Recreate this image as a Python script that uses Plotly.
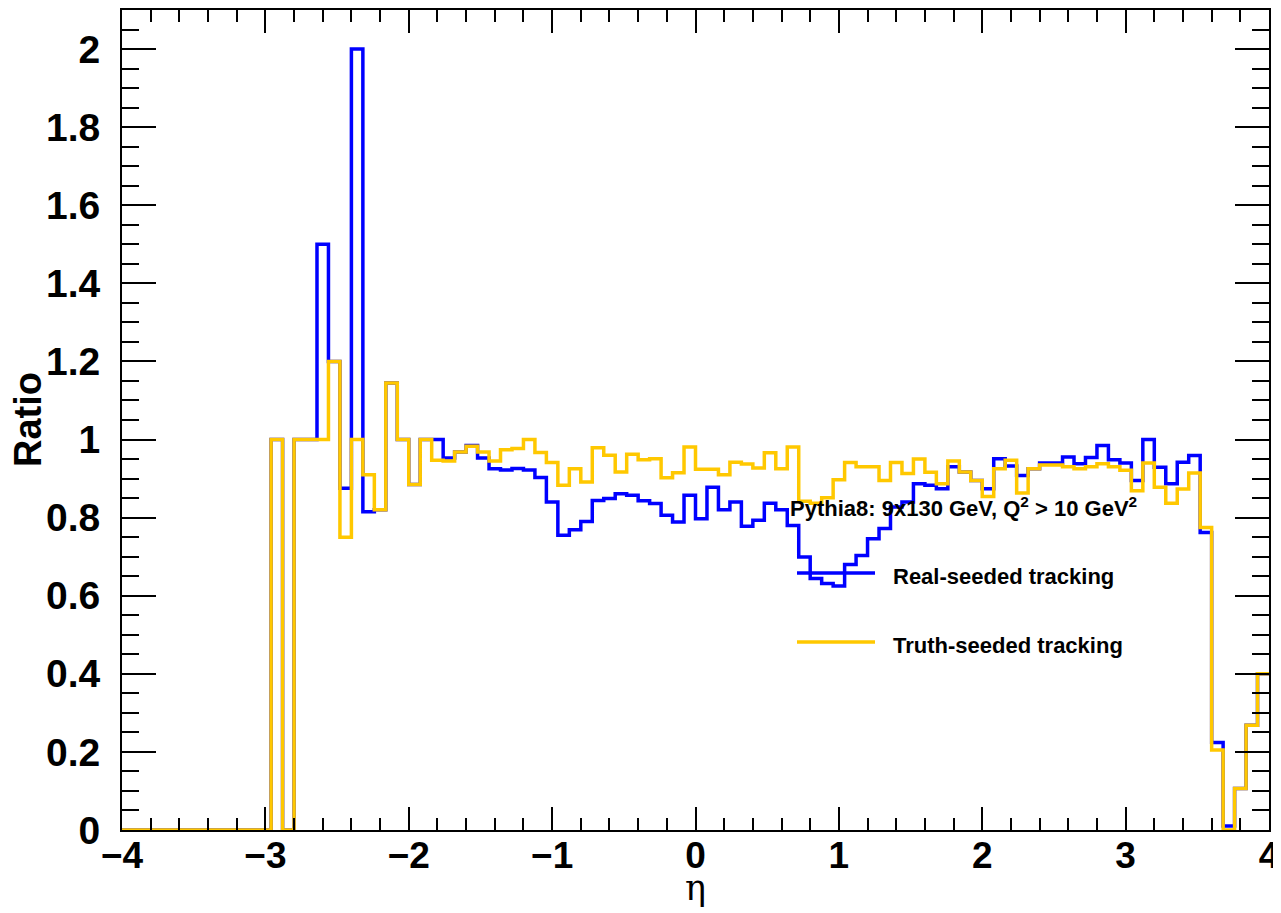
import plotly.graph_objects as go

# 100 bins of width 0.08 from -4 to 4
eta_min, eta_max, n_bins = -4.0, 4.0, 100

real_seeded = [
    0, 0, 0, 0, 0, 0, 0, 0, 0, 0,
    0, 0, 0, 1.0, 0, 1.0, 1.0, 1.5, 1.2, 0.875,
    2.0, 0.815, 0.82, 1.145, 1.0, 0.885, 1.0, 1.0, 0.953, 0.968,
    0.985, 0.953, 0.925, 0.922, 0.926, 0.922, 0.903, 0.840, 0.755, 0.769,
    0.790, 0.844, 0.849, 0.861, 0.857, 0.843, 0.836, 0.806, 0.789, 0.857,
    0.797, 0.878, 0.820, 0.840, 0.778, 0.793, 0.837, 0.820, 0.780, 0.699,
    0.644, 0.631, 0.625, 0.680, 0.703, 0.746, 0.772, 0.827, 0.840, 0.887,
    0.883, 0.874, 0.930, 0.917, 0.895, 0.874, 0.951, 0.932, 0.908, 0.925,
    0.940, 0.940, 0.955, 0.938, 0.954, 0.985, 0.948, 0.940, 0.895, 1.0,
    0.929, 0.887, 0.942, 0.959, 0.762, 0.224, 0.01, 0.106, 0.268, 0.40,
]

truth_seeded = [
    0, 0, 0, 0, 0, 0, 0, 0, 0, 0,
    0, 0, 0, 1.0, 0, 1.0, 1.0, 1.0, 1.2, 0.75,
    1.0, 0.91, 0.82, 1.145, 1.0, 0.885, 1.0, 0.947, 0.945, 0.968,
    0.983, 0.968, 0.945, 0.974, 0.977, 1.0, 0.967, 0.941, 0.883, 0.925,
    0.891, 0.979, 0.960, 0.917, 0.962, 0.948, 0.951, 0.902, 0.915, 0.981,
    0.924, 0.924, 0.910, 0.942, 0.937, 0.927, 0.966, 0.925, 0.981, 0.842,
    0.837, 0.851, 0.897, 0.941, 0.930, 0.930, 0.895, 0.941, 0.913, 0.950,
    0.916, 0.887, 0.945, 0.917, 0.895, 0.854, 0.925, 0.947, 0.863, 0.925,
    0.935, 0.935, 0.930, 0.925, 0.930, 0.938, 0.930, 0.921, 0.869, 0.940,
    0.878, 0.837, 0.873, 0.914, 0.775, 0.205, 0, 0.106, 0.268, 0.40,
]

series_names = ["Real-seeded tracking", "Truth-seeded tracking"]
series_colors = ["#0000ff", "#ffc800"]
caption = "Pythia8: 9x130 GeV, Q<sup>2</sup> > 10 GeV<sup>2</sup>"
x_tickvals = [-4, -3, -2, -1, 0, 1, 2, 3, 4]
x_ticktext = ["\u22124", "\u22123", "\u22122", "\u22121", "0", "1", "2", "3", "4"]
y_tickvals = [0, 0.2, 0.4, 0.6, 0.8, 1.0, 1.2, 1.4, 1.6, 1.8, 2.0]
y_ticktext = ["0", "0.2", "0.4", "0.6", "0.8", "1", "1.2", "1.4", "1.6", "1.8", "2"]

width = (eta_max - eta_min) / n_bins
edges = [eta_min + i * width for i in range(n_bins + 1)]

fig = go.Figure()
for vals, name, col in zip([real_seeded, truth_seeded], series_names, series_colors):
    fig.add_trace(go.Scatter(
        x=edges, y=list(vals) + [vals[-1]], mode="lines", line_shape="hv",
        line=dict(color=col, width=3.5), name=name, showlegend=False,
        hoverinfo="skip"))

# page has an 8px body margin: compensate so the frame lands at (122..1269, 10..830)
OFF = 8
W, H = 1281 - OFF, 913 - OFF
L, R, T, B = 122 - OFF, 12, 10 - OFF, 83
pw, ph = W - L - R, H - T - B

def px(xp):
    return (xp - OFF - L) / pw

def py(yp):
    return (H - B - (yp - OFF)) / ph

font_b = dict(family="Liberation Sans, Arial, sans-serif", color="black", weight="bold")

# manual legend (ROOT style)
legend_y = [573, 642]
for name, col, ly in zip(series_names, series_colors, legend_y):
    fig.add_shape(type="line", xref="paper", yref="paper",
                  x0=px(797), x1=px(875), y0=py(ly), y1=py(ly),
                  line=dict(color=col, width=3.5))
    fig.add_annotation(xref="paper", yref="paper", x=px(891), y=py(ly + 3),
                       text=name, showarrow=False, xanchor="left", yanchor="middle",
                       font=dict(size=22, **font_b))

fig.add_annotation(xref="paper", yref="paper", x=px(788), y=py(507),
                   text=caption, showarrow=False, xanchor="left", yanchor="middle",
                   font=dict(size=22, **font_b))

fig.add_annotation(xref="paper", yref="paper", x=0.5, y=py(888),
                   text="η", showarrow=False, xanchor="center", yanchor="middle",
                   font=dict(size=35, family="DejaVu Serif, Liberation Serif, serif", color="black"))
fig.add_annotation(xref="paper", yref="paper", x=px(28), y=py(420),
                   text="Ratio", showarrow=False, textangle=-90,
                   xanchor="center", yanchor="middle",
                   font=dict(size=38, **font_b))

fig.update_layout(
    width=W, height=H,
    margin=dict(l=L, r=R, t=T, b=B, pad=0, autoexpand=False),
    paper_bgcolor="white", plot_bgcolor="white",
    showlegend=False,
)
fig.update_xaxes(
    range=[eta_min, eta_max], showgrid=False, zeroline=False, automargin=False,
    showline=True, linecolor="black", linewidth=2, mirror="allticks",
    ticks="inside", ticklen=23, tickwidth=2, tickcolor="black",
    tickvals=x_tickvals, ticktext=x_ticktext, ticklabelstandoff=-8,
    tickfont=dict(size=37, **font_b),
    minor=dict(ticks="inside", ticklen=12, dtick=0.2, tick0=-4, tickwidth=2, tickcolor="black", showgrid=False),
)
fig.update_yaxes(
    range=[0, 2.1], showgrid=False, zeroline=False, automargin=False,
    showline=True, linecolor="black", linewidth=2, mirror="allticks",
    ticks="inside", ticklen=34, tickwidth=2, tickcolor="black",
    tickvals=y_tickvals, ticktext=y_ticktext, ticklabelstandoff=12,
    tickfont=dict(size=39, **font_b),
    minor=dict(ticks="inside", ticklen=17, dtick=0.05, tick0=0, tickwidth=2, tickcolor="black", showgrid=False),
)

fig.write_html("out.html")
